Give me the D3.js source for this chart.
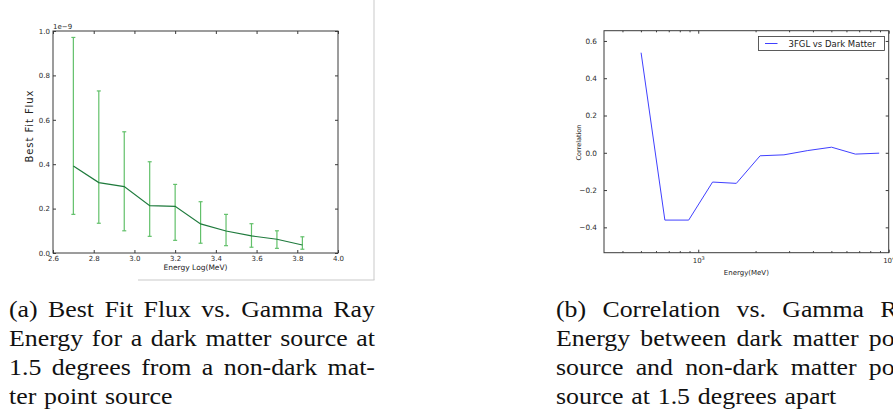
<!DOCTYPE html>
<html>
<head>
<meta charset="utf-8">
<script src="https://cdn.jsdelivr.net/npm/d3@7"></script>
<style>
  body { margin: 0; background: #fff; }
  svg { display: block; font-family: "DejaVu Sans", sans-serif; }
  .axis path { display: none; }
  .axis line { stroke: #3a3a3a; }
  .axis text { fill: #2a2a2a; }
</style>
</head>
<body>
<svg width="893" height="412"></svg>
<script>
'use strict';

// ---- data (a): best fit flux, units of 1e-9
const fluxLogE = [2.7, 2.825, 2.95, 3.075, 3.2, 3.325, 3.45, 3.575, 3.7, 3.825];
const fluxVal  = [0.392, 0.317, 0.299, 0.213, 0.210, 0.131, 0.099, 0.077, 0.062, 0.036];
const fluxHi   = [0.971, 0.730, 0.546, 0.411, 0.309, 0.231, 0.174, 0.132, 0.100, 0.073];
const fluxLo   = [0.174, 0.134, 0.100, 0.075, 0.057, 0.044, 0.033, 0.026, 0.021, 0.017];
const fluxXTicks = [2.6, 2.8, 3.0, 3.2, 3.4, 3.6, 3.8, 4.0];
const fluxYTicks = [0.0, 0.2, 0.4, 0.6, 0.8, 1.0];

// ---- data (b): correlation vs energy (MeV)
const corrE   = [501, 668, 891, 1189, 1585, 2113, 2818, 3758, 5012, 6683, 8913];
const corrVal = [0.537, -0.361, -0.361, -0.157, -0.164, -0.016, -0.011, 0.012, 0.030, -0.007, -0.002];
const corrYTicks = [-0.4, -0.2, 0.0, 0.2, 0.4, 0.6];
const corrLegend = "3FGL vs Dark Matter";

const capLeft  = ["(a) Best Fit Flux vs. Gamma Ray", "Energy for a dark matter source at",
                  "1.5 degrees from a non-dark mat-", "ter point source"];
const capRight = ["(b) Correlation vs. Gamma Ray", "Energy between dark matter point",
                  "source and non-dark matter point", "source at 1.5 degrees apart"];

const svg = d3.select("svg");
const fmt = d3.format(".1f");
const minus = s => s.replace("-", "\u2212");

function styleAxis(g, size) {
  g.attr("font-size", size).attr("font-family", null);
}

// ================= panel (a) =================
const A = {left: 53, right: 338, top: 31, bottom: 253};
const xA = d3.scaleLinear().domain([2.6, 4.0]).range([A.left, A.right]);
const yA = d3.scaleLinear().domain([0, 1]).range([A.bottom, A.top]);

// faint figure frame
svg.append("line").attr("x1", 374).attr("x2", 374).attr("y1", 0).attr("y2", 280)
  .attr("stroke", "#c9c9c9").attr("stroke-width", 1);
svg.append("line").attr("x1", 138).attr("x2", 374.5).attr("y1", 280).attr("y2", 280)
  .attr("stroke", "#c9c9c9").attr("stroke-width", 1);

const pa = svg.append("g");

pa.append("g").attr("class", "axis")
  .attr("transform", "translate(0," + A.bottom + ")")
  .call(d3.axisBottom(xA).tickValues(fluxXTicks).tickSizeInner(-3).tickSizeOuter(0)
        .tickPadding(3).tickFormat(fmt))
  .call(styleAxis, 7);
pa.append("g").attr("class", "axis")
  .attr("transform", "translate(0," + A.top + ")")
  .call(d3.axisTop(xA).tickValues(fluxXTicks).tickSizeInner(-3).tickSizeOuter(0).tickFormat(""));
pa.append("g").attr("class", "axis")
  .attr("transform", "translate(" + A.left + ",0)")
  .call(d3.axisLeft(yA).tickValues(fluxYTicks).tickSizeInner(-3).tickSizeOuter(0)
        .tickPadding(3).tickFormat(fmt))
  .call(styleAxis, 7);
pa.append("g").attr("class", "axis")
  .attr("transform", "translate(" + A.right + ",0)")
  .call(d3.axisRight(yA).tickValues(fluxYTicks).tickSizeInner(-3).tickSizeOuter(0).tickFormat(""));

// error bars
const eb = pa.append("g").attr("stroke", "#62c06a").attr("stroke-width", 1.2);
fluxLogE.forEach((e, i) => {
  const x = xA(e);
  eb.append("line").attr("x1", x).attr("x2", x).attr("y1", yA(fluxLo[i])).attr("y2", yA(fluxHi[i]));
  eb.append("line").attr("x1", x - 2).attr("x2", x + 2).attr("y1", yA(fluxLo[i])).attr("y2", yA(fluxLo[i]));
  eb.append("line").attr("x1", x - 2).attr("x2", x + 2).attr("y1", yA(fluxHi[i])).attr("y2", yA(fluxHi[i]));
});

pa.append("path")
  .datum(fluxLogE.map((e, i) => [e, fluxVal[i]]))
  .attr("fill", "none")
  .attr("stroke", "#1e7a3c")
  .attr("stroke-width", 1.2)
  .attr("d", d3.line().x(d => xA(d[0])).y(d => yA(d[1])));

pa.append("rect")
  .attr("x", A.left).attr("y", A.top)
  .attr("width", A.right - A.left).attr("height", A.bottom - A.top)
  .attr("fill", "none").attr("stroke", "#3a3a3a").attr("stroke-width", 1);

pa.append("text").attr("x", A.left).attr("y", 28.5)
  .attr("font-size", 7).attr("fill", "#2a2a2a").text("1e\u22129");

pa.append("text")
  .attr("transform", "translate(33,126.5) rotate(-90)")
  .attr("text-anchor", "middle").attr("font-size", 10).attr("fill", "#222")
  .attr("textLength", 72).attr("lengthAdjust", "spacing")
  .text("Best Fit Flux");

pa.append("text").attr("x", (A.left + A.right) / 2).attr("y", 269.5)
  .attr("text-anchor", "middle").attr("font-size", 7.5).attr("fill", "#222")
  .text("Energy Log(MeV)");

// ================= panel (b) =================
const B = {left: 604, right: 888.7, top: 30.7, bottom: 252.7};
const xB = d3.scaleLog().domain([320, 10000]).range([B.left, B.right]);
const yB = d3.scaleLinear().domain([-0.536, 0.655]).range([B.bottom, B.top]);

const isMajor = d => Math.abs(Math.log10(d) - Math.round(Math.log10(d))) < 1e-9;
const minorB = xB.ticks().filter(d => !isMajor(d));
const majorB = xB.ticks().filter(isMajor);

const pb = svg.append("g");

[[B.bottom, d3.axisBottom], [B.top, d3.axisTop]].forEach(([yy, ax]) => {
  pb.append("g").attr("class", "axis")
    .attr("transform", "translate(0," + yy + ")")
    .call(ax(xB).tickValues(minorB).tickSizeInner(-1.6).tickSizeOuter(0).tickFormat(""));
});

const bx = pb.append("g").attr("class", "axis")
  .attr("transform", "translate(0," + B.bottom + ")")
  .call(d3.axisBottom(xB).tickValues(majorB).tickSizeInner(-3).tickSizeOuter(0)
        .tickPadding(5).tickFormat(d => "10"))
  .call(styleAxis, 7);
bx.selectAll(".tick text").each(function(d) {
  const t = d3.select(this);
  t.text(null);
  t.append("tspan").text("10");
  t.append("tspan").attr("dy", -3).attr("font-size", 5).text(Math.round(Math.log10(d)));
});
pb.append("g").attr("class", "axis")
  .attr("transform", "translate(0," + B.top + ")")
  .call(d3.axisTop(xB).tickValues(majorB).tickSizeInner(-3).tickSizeOuter(0).tickFormat(""));

pb.append("g").attr("class", "axis")
  .attr("transform", "translate(" + B.left + ",0)")
  .call(d3.axisLeft(yB).tickValues(corrYTicks).tickSizeInner(-3).tickSizeOuter(0)
        .tickPadding(7).tickFormat(d => minus(fmt(d))))
  .call(styleAxis, 7.3);
pb.append("g").attr("class", "axis")
  .attr("transform", "translate(" + B.right + ",0)")
  .call(d3.axisRight(yB).tickValues(corrYTicks).tickSizeInner(-3).tickSizeOuter(0).tickFormat(""));

pb.append("path")
  .datum(corrE.map((e, i) => [e, corrVal[i]]))
  .attr("fill", "none")
  .attr("stroke", "#4040ff")
  .attr("stroke-width", 1)
  .attr("d", d3.line().x(d => xB(d[0])).y(d => yB(d[1])));

pb.append("rect")
  .attr("x", B.left).attr("y", B.top)
  .attr("width", B.right - B.left).attr("height", B.bottom - B.top)
  .attr("fill", "none").attr("stroke", "#3a3a3a").attr("stroke-width", 1);

// legend
const lg = pb.append("g").attr("transform", "translate(758.5,36.5)");
lg.append("rect").attr("width", 126).attr("height", 14)
  .attr("fill", "#fff").attr("stroke", "#333").attr("stroke-width", 0.8);
lg.append("line").attr("x1", 6.5).attr("x2", 19).attr("y1", 7).attr("y2", 7)
  .attr("stroke", "#4040ff").attr("stroke-width", 1);
lg.append("text").attr("x", 30).attr("y", 10.2).attr("font-size", 8.5).attr("fill", "#222")
  .text(corrLegend);

pb.append("text")
  .attr("transform", "translate(580.5,142.5) rotate(-90)")
  .attr("text-anchor", "middle").attr("font-size", 6.5).attr("fill", "#222")
  .text("Correlation");

pb.append("text").attr("x", (B.left + B.right) / 2).attr("y", 275)
  .attr("text-anchor", "middle").attr("font-size", 7).attr("fill", "#222")
  .text("Energy(MeV)");

// ================= captions =================
function caption(lines, x0, width) {
  const g = svg.append("g")
    .style("font-family", "'Liberation Serif', 'DejaVu Serif', serif")
    .attr("font-size", 23.5).attr("fill", "#111");
  const squeeze = 1.1, space = 7.8;
  lines.forEach((line, li) => {
    const y = 317 + li * 29;
    const words = line.split(" ");
    const nodes = words.map(w => g.append("text").attr("y", y).text(w));
    const widths = nodes.map(n => n.node().getComputedTextLength() * squeeze);
    const total = d3.sum(widths);
    const last = li === lines.length - 1;
    const gap = last || words.length < 2 ? space : (width - total) / (words.length - 1);
    let x = x0;
    nodes.forEach((n, i) => {
      n.attr("x", x).attr("textLength", widths[i]).attr("lengthAdjust", "spacingAndGlyphs");
      x += widths[i] + gap;
    });
  });
}
caption(capLeft, 9, 366);
caption(capRight, 556, 366);
</script>
</body>
</html>
